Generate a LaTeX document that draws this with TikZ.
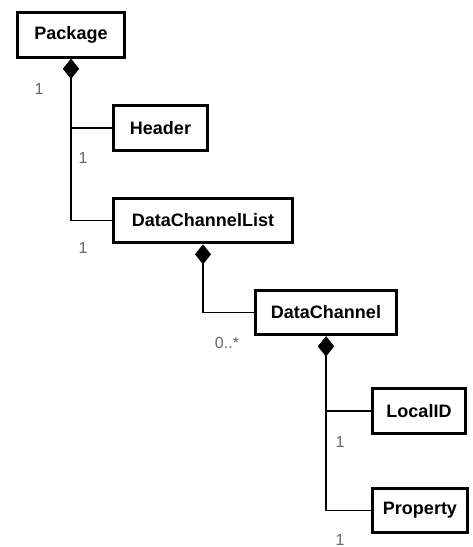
\documentclass[tikz,border=0pt]{standalone}
\usepackage{fontspec}
\setmainfont{Liberation Sans}
\usetikzlibrary{arrows.meta, positioning}

\tikzset{
	cls/.style={draw, line width=2.25pt, inner sep=0pt, minimum height=33.5pt,
		font=\bfseries\fontsize{13.5}{16}\selectfont},
	comp/.style={line width=1.1pt, {Diamond[length=15pt,width=12pt]}-},
	mult/.style={inner sep=0pt, text=black!60, font=\fontsize{12}{14}\selectfont}
}

\begin{document}
\begin{tikzpicture}[x=0.75pt, y=-0.75pt]
				\useasboundingbox (0, 0) rectangle (473, 547);

				% classes
				\node[cls, minimum width=80.25pt] (pkg) at (71, 35) {Package};
				\node[cls, minimum width=70.5pt] (hdr) at (160.5, 128) {Header};
				\node[cls, minimum width=134.25pt] (dcl) at (203, 220.5) {DataChannelList};
				\node[cls, minimum width=105.75pt] (dch) at (326, 312.5) {DataChannel};
				\node[cls, minimum width=69.75pt] (lid) at (419, 411) {LocalID};
				\node[cls, minimum width=71.25pt] (prop) at (420, 510.5) {Property};

				% compositions
				\draw[comp] (pkg.south) |- (hdr.west);
				\draw[comp] (pkg.south) |- (dcl.west);
				\draw[comp] (dcl.south) |- (dch.west);
				\draw[comp] (dch.south) |- (lid.west);
				\draw[comp] (dch.south) |- (prop.west);

				% multiplicities
				\node[mult] (m1) at (39, 89) {1};
				\node[mult] (m2) at (83, 158) {1};
				\node[mult] (m3) at (83, 248) {1};
				\node[mult] (m4) at (227, 343) {0..*};
				\node[mult] (m5) at (340, 442) {1};
				\node[mult] (m6) at (340, 540) {1};
			\end{tikzpicture}
\end{document}
